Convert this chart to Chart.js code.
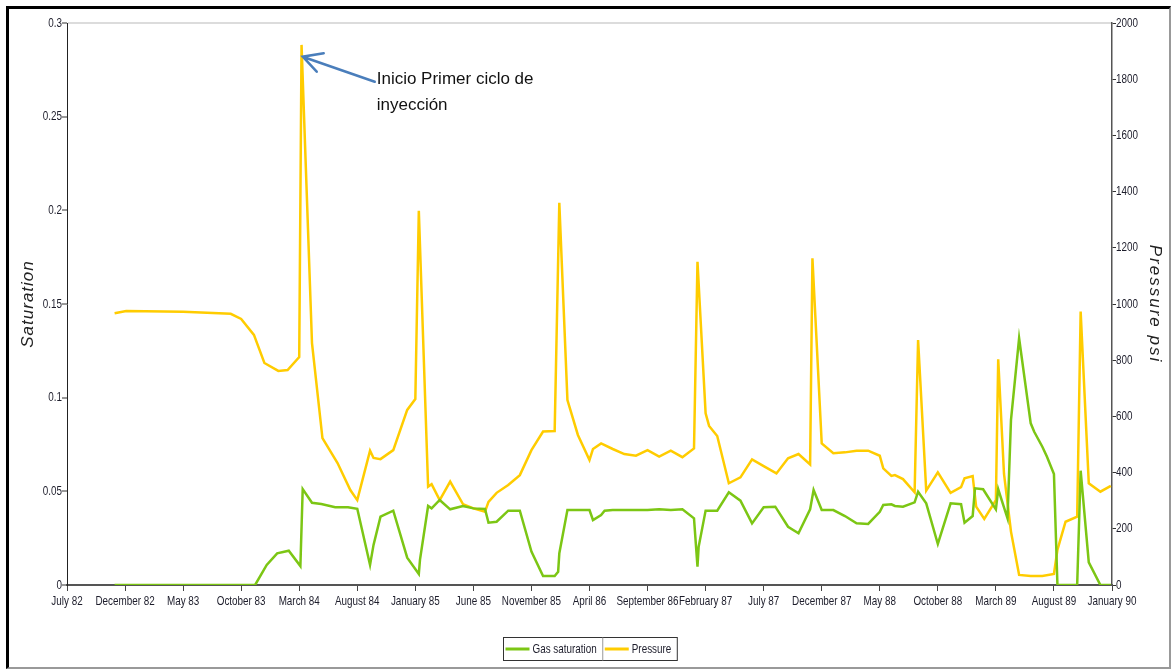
<!DOCTYPE html>
<html>
<head>
<meta charset="utf-8">
<script src="https://cdn.jsdelivr.net/npm/chart.js@4"></script>
<style>
  body { margin: 0; background: #fff; }
  #wrap { position: absolute; left: 0; top: 0; width: 1171px; height: 669px; }
  #frame {
    position: absolute; left: 6px; top: 6px; width: 1160px; height: 658px;
    border-left: 3px solid #000; border-top: 3px solid #000;
    border-right: 2px solid #999; border-bottom: 2px solid #999;
    pointer-events: none;
  }
</style>
</head>
<body>
<div id="wrap">
  <canvas id="chart" width="1171" height="669"></canvas>
  <div id="frame"></div>
</div>
<script>
// x values are months since July 82
const xTickLabels = ["July 82", "December 82", "May 83", "October 83", "March 84", "August 84",
  "January 85", "June 85", "November 85", "April 86", "September 86", "February 87",
  "July 87", "December 87", "May 88", "October 88", "March 89", "August 89", "January 90"]

const satMonths = [4.1, 16.2, 17.2, 18.1, 19.1, 20.1, 20.3, 21.1, 21.9, 23.1, 24.2, 25, 26.1, 26.4, 27, 28.1,
  29.3, 30.3, 30.4, 31.1, 31.4, 32.1, 33, 34.1, 35, 36, 36.3, 37, 38, 39, 40, 41, 42, 42.3, 42.4, 43.1,
  44, 45, 45.3, 46, 46.3, 47, 48, 49, 50, 51, 52, 53, 54, 54.3, 54.4, 55, 56, 57, 58, 59, 60, 61,
  62.1, 63, 64, 64.3, 65, 66, 67, 68, 69, 70, 70.3, 71, 71.3, 72, 73, 73.3, 74, 75, 76.1, 77, 77.3,
  78, 78.2, 78.9, 80, 80.2, 81, 81.3, 82, 83, 83.3, 84, 84.4, 85, 85.3, 87, 87.3, 88, 89, 89.9]
const satValues = [0, 0, 0.0107, 0.0169, 0.0183, 0.0101, 0.0512, 0.0439, 0.0432, 0.0415, 0.0415, 0.0407, 0.0107, 0.0214, 0.0365, 0.0397,
  0.0146, 0.0059, 0.0134, 0.0422, 0.0409, 0.0454, 0.0404, 0.0422, 0.0409, 0.0406, 0.0333, 0.0338, 0.0397, 0.0397, 0.0178, 0.0048, 0.0048, 0.0071, 0.0169, 0.04,
  0.04, 0.04, 0.0347, 0.0374, 0.0397, 0.04, 0.04, 0.04, 0.0401, 0.0404, 0.0401, 0.0404, 0.0356, 0.0098, 0.0204, 0.0397, 0.0397, 0.0495, 0.045, 0.0329, 0.0415, 0.0418,
  0.0311, 0.0276, 0.0404, 0.0507, 0.04, 0.04, 0.0368, 0.0329, 0.0326, 0.0391, 0.0427, 0.0431, 0.0422, 0.0418, 0.0441, 0.0498, 0.0436, 0.0219, 0.0436, 0.0431, 0.0333,
  0.0368, 0.0516, 0.0511, 0.0404, 0.0511, 0.0356, 0.0881, 0.1317, 0.0863, 0.0818, 0.0738, 0.0685, 0.0593, 0, 0, 0.061, 0.0121, 0, 0]

const presMonths = [4.1, 5.1, 10, 14.1, 15, 16.1, 17, 18.2, 19, 20, 20.2, 21.1, 22, 23.3, 24.4, 25, 26.1, 26.4, 27, 28.1,
  29.3, 30, 30.3, 31.1, 31.4, 32.1, 33, 34.1, 35, 36, 36.3, 37, 38, 39, 40, 41, 42, 42.4, 43.1, 44, 45, 45.3,
  46, 47, 48, 49, 50, 51, 52, 53, 54, 54.3, 55, 55.3, 56, 57, 58, 59, 60, 61.1, 62.1, 63, 64, 64.2, 65, 66,
  67, 68, 69, 70, 70.3, 71, 71.3, 72, 73, 73.3, 74, 75, 76.1, 77, 77.3, 78, 78.3, 79, 80, 80.2, 80.7, 81.3,
  82, 83, 84, 85, 85.3, 86, 87, 87.3, 88, 89, 89.9]
const presValues = [967, 975, 972, 965, 947, 890, 790, 762, 765, 811, 1922, 861, 523, 434, 338, 302, 478, 452, 448, 480,
  623, 662, 1332, 350, 359, 302, 368, 288, 273, 261, 296, 328, 356, 391, 480, 546, 548, 1360, 658, 534, 445, 484,
  504, 484, 466, 460, 480, 457, 478, 455, 486, 1150, 611, 566, 530, 362, 383, 447, 423, 397, 451, 466, 429, 1163, 504, 469,
  472, 478, 478, 460, 415, 388, 391, 377, 330, 872, 336, 401, 328, 348, 380, 388, 279, 235, 302, 803, 395, 190,
  36, 32, 32, 39, 125, 225, 243, 973, 362, 332, 353]

const GREEN = "#7cc614"
const YELLOW = "#ffcc00"
const LABEL_FONT = "13px 'Liberation Sans', Arial, sans-serif"
const NARROW = 0.76   // squeeze to look like Arial Narrow

// draw text squeezed horizontally
function narrowText(ctx, text, x, y, align) {
  ctx.save()
  ctx.textAlign = align
  ctx.scale(NARROW, 1)
  ctx.fillText(text, x / NARROW, y)
  ctx.restore()
}

// tick labels, axis titles, annotation and legend
const extras = {
  id: "extras",
  afterDraw(chart) {
    const ctx = chart.ctx
    const area = chart.chartArea
    const { x, y, y2 } = chart.scales
    const midY = (area.top + area.bottom) / 2

    ctx.save()
    ctx.fillStyle = "#1d1d2b"
    ctx.font = LABEL_FONT
    ctx.textBaseline = "middle"
    x.ticks.forEach((t, i) => narrowText(ctx, xTickLabels[i], x.getPixelForValue(t.value), area.bottom + 16, "center"))
    y.ticks.forEach(t => narrowText(ctx, String(+t.value.toFixed(2)), area.left - 5, y.getPixelForValue(t.value), "right"))
    y2.ticks.forEach(t => narrowText(ctx, String(t.value), area.right + 4, y2.getPixelForValue(t.value), "left"))
    ctx.restore()

    ctx.save()
    ctx.fillStyle = "#222"
    ctx.font = "italic 17px 'Liberation Sans', Arial, sans-serif"
    ctx.textAlign = "center"
    ctx.textBaseline = "middle"
    ctx.letterSpacing = "1px"
    ctx.translate(28, midY)
    ctx.rotate(-Math.PI / 2)
    ctx.fillText("Saturation", 0, 0)
    ctx.restore()

    ctx.save()
    ctx.fillStyle = "#222"
    ctx.font = "italic 17px 'Liberation Sans', Arial, sans-serif"
    ctx.textAlign = "center"
    ctx.textBaseline = "middle"
    ctx.letterSpacing = "2px"
    ctx.translate(1155, midY)
    ctx.rotate(Math.PI / 2)
    ctx.fillText("Pressure psi", 0, 0)
    ctx.restore()

    // arrow pointing at first injection spike
    const tx = x.getPixelForValue(20.3)
    const ty = y2.getPixelForValue(1880)
    ctx.save()
    ctx.strokeStyle = "#4a7ebb"
    ctx.lineWidth = 2.5
    ctx.lineCap = "round"
    ctx.beginPath()
    ctx.moveTo(tx + 72, ty + 25)
    ctx.lineTo(tx, ty)
    ctx.moveTo(tx + 21, ty - 3.5)
    ctx.lineTo(tx, ty)
    ctx.lineTo(tx + 14, ty + 15)
    ctx.stroke()
    ctx.fillStyle = "#111"
    ctx.font = "17px 'Liberation Sans', Arial, sans-serif"
    ctx.textBaseline = "alphabetic"
    ctx.fillText("Inicio Primer ciclo de", tx + 74, ty + 27)
    ctx.fillText("inyección", tx + 74, ty + 53)
    ctx.restore()

    // boxed legend under the axis
    const items = chart.data.datasets.map(d => ({ text: d.label, color: d.borderColor }))
    ctx.save()
    ctx.font = LABEL_FONT
    ctx.textBaseline = "middle"
    const widths = items.map(it => 30 + ctx.measureText(it.text).width * NARROW + 5)
    const total = widths.reduce((a, b) => a + b, 0)
    let lx = Math.round((area.left + area.right) / 2 - total / 2) + 0.5
    const ly = 637.5, lh = 23
    ctx.strokeStyle = "#333"
    ctx.lineWidth = 1
    ctx.strokeRect(lx, ly, total, lh)
    items.forEach((it, i) => {
      if (i > 0) {
        ctx.strokeStyle = "#999"
        ctx.beginPath(); ctx.moveTo(lx, ly); ctx.lineTo(lx, ly + lh); ctx.stroke()
      }
      ctx.strokeStyle = it.color
      ctx.lineWidth = 3
      ctx.beginPath(); ctx.moveTo(lx + 2, ly + lh / 2); ctx.lineTo(lx + 26, ly + lh / 2); ctx.stroke()
      ctx.lineWidth = 1
      ctx.fillStyle = "#1d1d2b"
      narrowText(ctx, it.text, lx + 29, ly + lh / 2 + 0.5, "left")
      lx += widths[i]
    })
    ctx.restore()
  }
}

new Chart(document.getElementById("chart"), {
  type: "line",
  data: {
    datasets: [
      {
        label: "Gas saturation",
        data: satMonths.map((m, i) => ({ x: m, y: satValues[i] })),
        borderColor: GREEN,
        borderWidth: 2.5,
        pointRadius: 0,
        tension: 0,
        yAxisID: "y"
      },
      {
        label: "Pressure",
        data: presMonths.map((m, i) => ({ x: m, y: presValues[i] })),
        borderColor: YELLOW,
        borderWidth: 2.5,
        pointRadius: 0,
        tension: 0,
        yAxisID: "y2"
      }
    ]
  },
  options: {
    responsive: false,
    animation: false,
    events: [],
    layout: { padding: { left: 10, right: 6, top: 23, bottom: 54 } },
    plugins: { legend: { display: false }, tooltip: { enabled: false } },
    scales: {
      x: {
        type: "linear",
        min: 0,
        max: 90,
        afterFit: s => { s.height = 30 },
        afterBuildTicks: s => { s.ticks = xTickLabels.map((_, i) => ({ value: i * 5 })) },
        ticks: { display: false },
        grid: { drawOnChartArea: false, tickLength: 6, tickColor: "#444", tickWidth: 1 },
        border: { color: "#555", width: 2 }
      },
      y: {
        position: "left",
        min: 0,
        max: 0.3,
        afterFit: s => { s.width = 57 },
        ticks: { display: false, stepSize: 0.05 },
        grid: {
          color: c => (c.tick && c.tick.value === 0.3 ? "#dcdcdc" : "rgba(0,0,0,0)"),
          lineWidth: 2,
          tickColor: "#333",
          tickLength: 5,
          tickWidth: 1
        },
        border: { color: "#222", width: 1 }
      },
      y2: {
        position: "right",
        min: 0,
        max: 2000,
        afterFit: s => { s.width = 53 },
        ticks: { display: false, stepSize: 200 },
        grid: { drawOnChartArea: false, tickColor: "#333", tickLength: 4, tickWidth: 1 },
        border: { color: "#555", width: 1.5 }
      }
    }
  },
  plugins: [extras]
})
</script>
</body>
</html>
